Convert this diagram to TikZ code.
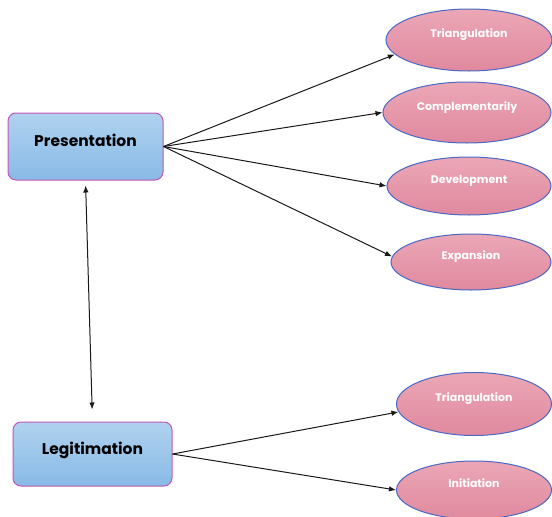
\documentclass[tikz,border=0pt]{standalone}
\usepackage{fontspec}
\setmainfont{Poppins}
\usetikzlibrary{arrows.meta,shapes.geometric}

\definecolor{boxtop}{HTML}{B0D2EF}
\definecolor{boxbot}{HTML}{88BAE6}
\definecolor{boxline}{HTML}{C055B5}
\definecolor{ovaltop}{HTML}{EBA7B6}
\definecolor{ovalbot}{HTML}{E0899E}
\definecolor{ovalline}{HTML}{4A68C4}

\begin{document}
\begin{tikzpicture}[x=1pt,y=-1pt,
  box/.style={draw=boxline,line width=1pt,rounded corners=8pt,top color=boxtop,bottom color=boxbot,
    inner sep=0pt,text depth=12pt,font=\bfseries\fontsize{15.5}{18}\selectfont},
  oval/.style={draw=ovalline,line width=1pt,ellipse,top color=ovaltop,bottom color=ovalbot,
    inner sep=0pt,text=white,text depth=13pt,font=\bfseries\fontsize{11}{13}\selectfont},
  link/.style={-{Latex[length=7pt,width=5.5pt]},line width=1pt,black!90}]
  \useasboundingbox (0,0) rectangle (552,517);

  % left boxes
  \node[box,minimum width=155pt,minimum height=67pt] (pres) at (85.5,146.5) {Presentation};
  \node[box,minimum width=159pt,minimum height=64pt] (legit) at (92.5,454) {Legitimation};

  % ovals on the right
  \node[oval,minimum width=166pt,minimum height=62pt] (tri) at (469,40) {Triangulation};
  \node[oval,minimum width=168pt,minimum height=61pt] (comp) at (467,112.5) {Complementarily};
  \node[oval,minimum width=164pt,minimum height=58pt] (dev) at (469,186) {Development};
  \node[oval,minimum width=160pt,minimum height=56pt] (exp) at (471,262) {Expansion};
  \node[oval,minimum width=155pt,minimum height=63pt] (tri2) at (474,404) {Triangulation};
  \node[oval,minimum width=155pt,minimum height=58pt] (init) at (474,490) {Initiation};

  % Presentation links
  \draw[link] (pres.east) -- (tri.191);
  \draw[link] (pres.east) -- (comp.west);
  \draw[link] (pres.east) -- (dev.west);
  \draw[link] (pres.east) -- (exp.176);

  % Legitimation links
  \draw[link] (legit.east) -- (tri2.186);
  \draw[link] (legit.east) -- (init.west);

  % between the two boxes
  \draw[link,{Latex[length=7pt,width=5.5pt]}-{Latex[length=7pt,width=5.5pt]},shorten <=5pt,shorten >=12pt]
    (pres.south) -- (legit.north);
\end{tikzpicture}
\end{document}
